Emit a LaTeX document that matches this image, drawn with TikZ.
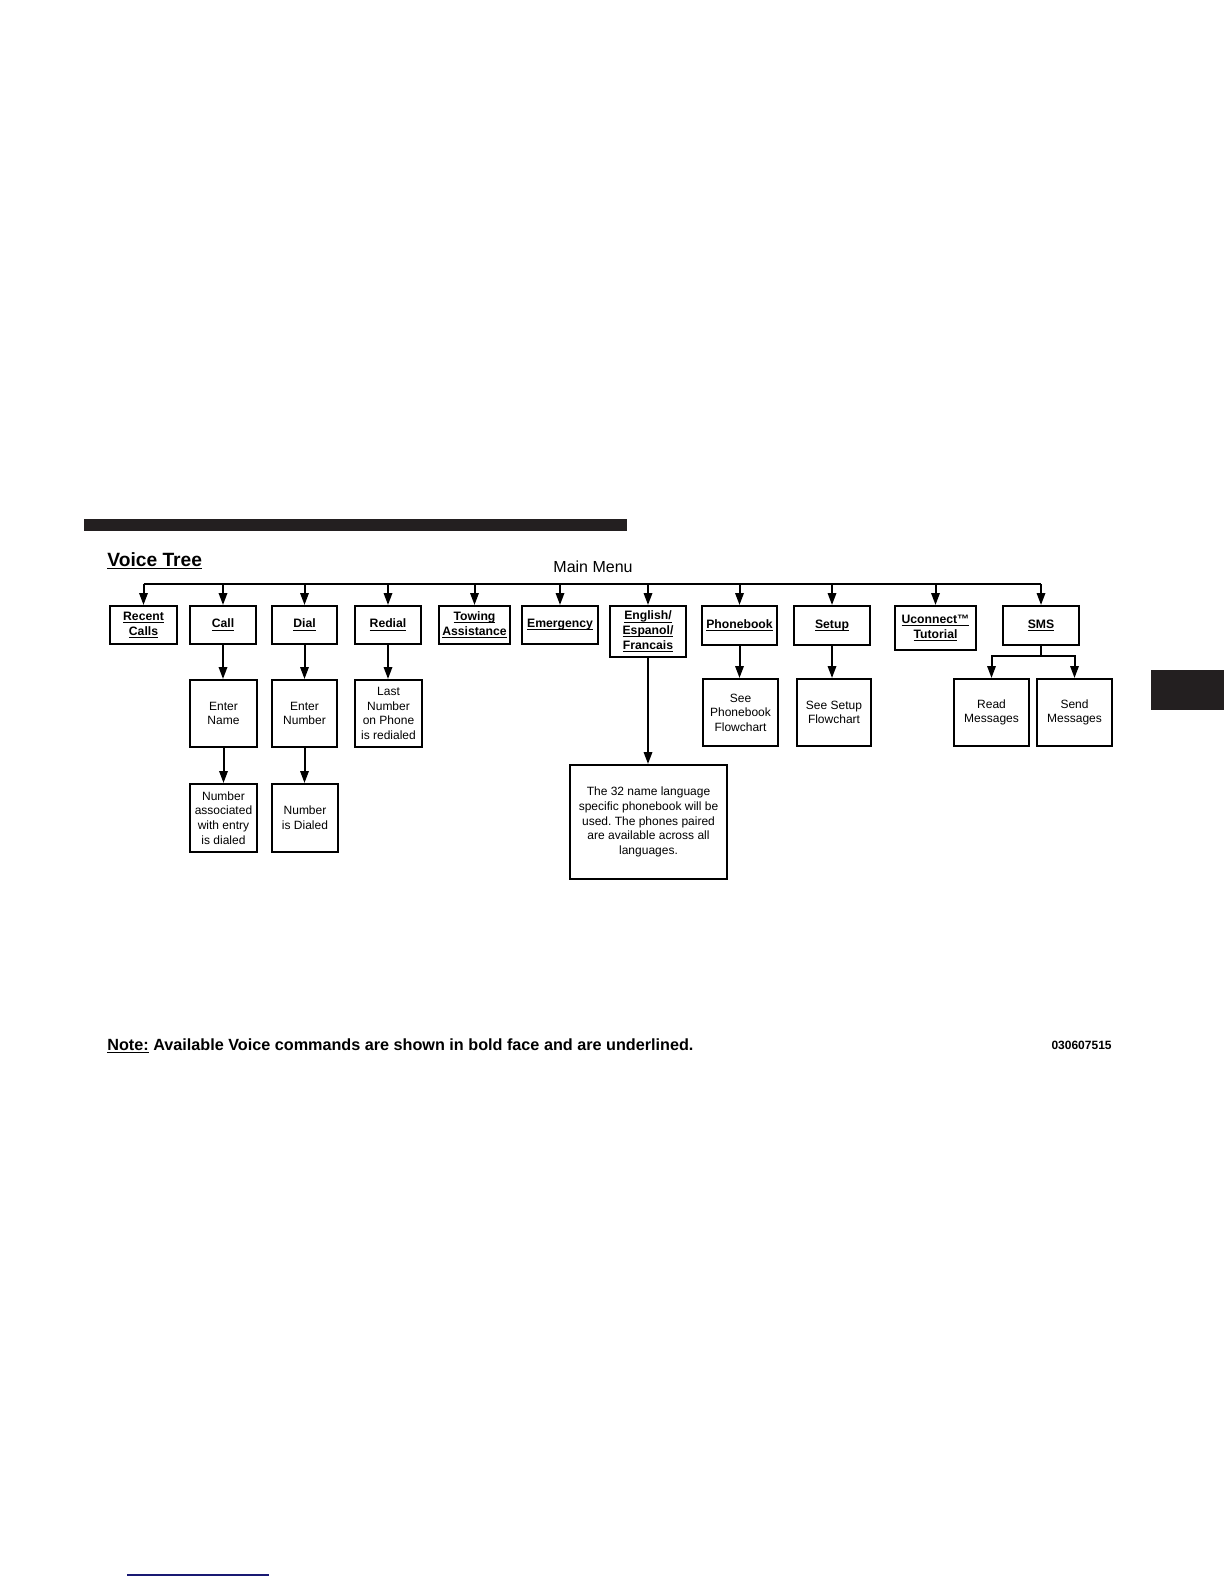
\documentclass[tikz,border=0pt]{standalone}
\usepackage{amsmath}
\usepackage{fontspec}
\setmainfont{Liberation Sans}
\usetikzlibrary{arrows.meta}
\definecolor{barc}{HTML}{231F20}
\definecolor{navyc}{RGB}{25,25,115}
\newcommand{\ul}[1]{\underline{\smash[b]{#1}}}
\frenchspacing
\begin{document}
\begin{tikzpicture}[x=0.5pt,y=-0.5pt,
  bx/.style={draw, line width=1pt, align=center, inner sep=0pt, font=\fontsize{6}{7.3}\selectfont},
  cmd/.style={bx, font=\fontsize{6.1}{7.3}\selectfont\bfseries},
  arr/.style={line width=1pt, -{Triangle[length=6pt,width=4.2pt]}},
  ln/.style={line width=1pt}]
\useasboundingbox (0,0) rectangle (1224,1584);
% decorations
\fill[barc] (84,519) rectangle (627,531);
\fill[barc] (1151,670) rectangle (1224,710);
\draw[navyc, line width=0.75pt] (127,1575) -- (269,1575);
% titles
\node[anchor=base west, inner sep=0pt, font=\fontsize{9.6}{11}\selectfont\bfseries] (title) at (107,566) {\ul{Voice Tree}};
\node[anchor=base, inner sep=0pt, font=\fontsize{8}{9.6}\selectfont] (mm) at (593,572) {Main Menu};
% first row
\node[cmd, minimum width=33.5pt, minimum height=19pt] (rc) at (143.5,625) {\ul{Recent}\\\ul{Calls}};
\node[cmd, minimum width=33pt, minimum height=19pt] (call) at (223,625) {\ul{Call}};
\node[cmd, minimum width=32.5pt, minimum height=19pt] (dial) at (304.5,625) {\ul{Dial}};
\node[cmd, minimum width=33pt, minimum height=19pt] (redial) at (388,625) {\ul{Redial}};
\node[cmd, minimum width=35.5pt, minimum height=19pt] (tow) at (474.5,625) {\ul{Towing}\\\ul{Assistance}};
\node[cmd, minimum width=38pt, minimum height=19pt] (emer) at (560,625) {\ul{Emergency}};
\node[cmd, minimum width=38pt, minimum height=25.5pt] (eng) at (648,631.5) {\ul{English/}\\\ul{Espanol/}\\\ul{Francais}};
\node[cmd, minimum width=37.5pt, minimum height=19.5pt] (pb) at (739.5,625.5) {\ul{Phonebook}};
\node[cmd, minimum width=38pt, minimum height=19.5pt] (setup) at (832,625.5) {\ul{Setup}};
\node[cmd, minimum width=40.5pt, minimum height=22pt] (uc) at (935.5,628) {\ul{Uconnect™}\\\ul{Tutorial}};
\node[cmd, minimum width=38pt, minimum height=19.5pt] (sms) at (1041,625.5) {\ul{SMS}};
% second row
\node[bx, minimum width=33.5pt, minimum height=33.5pt] (ename) at (223.5,713.5) {Enter\\Name};
\node[bx, minimum width=32.5pt, minimum height=33.5pt] (enum) at (304.5,713.5) {Enter\\Number};
\node[bx, minimum width=33.5pt, minimum height=33.5pt] (last) at (388.5,713.5) {Last\\Number\\on Phone\\is redialed};
\node[bx, minimum width=37.5pt, minimum height=33.5pt] (seepb) at (740.5,712.5) {See\\Phonebook\\Flowchart};
\node[bx, minimum width=37pt, minimum height=33.5pt] (seesetup) at (834,712.5) {See Setup\\Flowchart};
\node[bx, minimum width=37.5pt, minimum height=33.5pt] (read) at (991.5,712.5) {Read\\Messages};
\node[bx, minimum width=37.5pt, minimum height=33.5pt] (send) at (1074.5,712.5) {Send\\Messages};
% third row
\node[bx, minimum width=33.5pt, minimum height=34pt] (numassoc) at (223.5,818) {Number\\associated\\with entry\\is dialed};
\node[bx, minimum width=33pt, minimum height=34pt] (numdialed) at (305,818) {Number\\is Dialed};
\node[bx, minimum width=78.5pt, minimum height=57pt] (lang) at (648.5,822) {The 32 name language\\specific phonebook will be\\used. The phones paired\\are available across all\\languages.};
% bus
\coordinate (bus) at (0,584);
\draw[ln] (rc.north |- bus) -- (sms.north |- bus);
\foreach \n in {rc,call,dial,redial,tow,emer,eng,pb,setup,uc,sms}
  \draw[arr] (\n.north |- bus) -- (\n.north);
% vertical connectors
\draw[arr] (call.south) -- (call.south |- ename.north);
\draw[arr] (ename.south) -- (ename.south |- numassoc.north);
\draw[arr] (dial.south) -- (dial.south |- enum.north);
\draw[arr] (enum.south) -- (enum.south |- numdialed.north);
\draw[arr] (redial.south) -- (redial.south |- last.north);
\draw[arr] (eng.south) -- (eng.south |- lang.north);
\draw[arr] (pb.south) -- (pb.south |- seepb.north);
\draw[arr] (setup.south) -- (setup.south |- seesetup.north);
\coordinate (smsj) at (1041,656);
\draw[arr] (sms.south) -- (sms.south |- smsj) -| (read.north);
\draw[arr] (sms.south |- smsj) -| (send.north);
% note
\node[anchor=base west, inner sep=0pt, font=\fontsize{8.1}{9.7}\selectfont\bfseries] (note) at (107,1050) {\ul{Note:} Available Voice commands are shown in bold face and are underlined.};
\node[anchor=base east, inner sep=0pt, font=\fontsize{6}{7}\selectfont\bfseries] (code) at (1112,1049) {030607515};
\end{tikzpicture}
\end{document}
